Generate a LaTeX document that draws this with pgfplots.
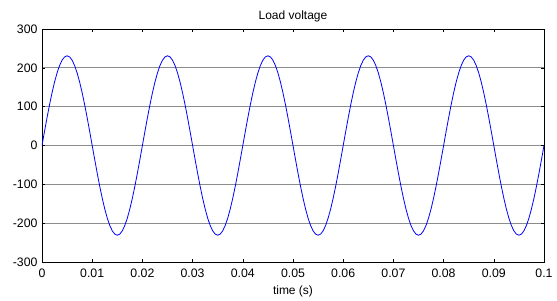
\documentclass[border=0pt]{standalone}
\usepackage{fontspec}
\setmainfont{Liberation Sans}
\usepackage{pgfplots}
\usepackage{pgfplotstable}
\pgfplotsset{compat=1.18}
\pgfplotstableread{
t v
0 0
0.0005 36.14
0.001 71.38
0.0015 104.87
0.002 135.78
0.0025 163.34
0.003 186.88
0.0035 205.82
0.004 219.69
0.0045 228.16
0.005 231
0.0055 228.16
0.006 219.69
0.0065 205.82
0.007 186.88
0.0075 163.34
0.008 135.78
0.0085 104.87
0.009 71.38
0.0095 36.14
0.01 0
0.0105 -36.14
0.011 -71.38
0.0115 -104.87
0.012 -135.78
0.0125 -163.34
0.013 -186.88
0.0135 -205.82
0.014 -219.69
0.0145 -228.16
0.015 -231
0.0155 -228.16
0.016 -219.69
0.0165 -205.82
0.017 -186.88
0.0175 -163.34
0.018 -135.78
0.0185 -104.87
0.019 -71.38
0.0195 -36.14
0.02 0
0.0205 36.14
0.021 71.38
0.0215 104.87
0.022 135.78
0.0225 163.34
0.023 186.88
0.0235 205.82
0.024 219.69
0.0245 228.16
0.025 231
0.0255 228.16
0.026 219.69
0.0265 205.82
0.027 186.88
0.0275 163.34
0.028 135.78
0.0285 104.87
0.029 71.38
0.0295 36.14
0.03 0
0.0305 -36.14
0.031 -71.38
0.0315 -104.87
0.032 -135.78
0.0325 -163.34
0.033 -186.88
0.0335 -205.82
0.034 -219.69
0.0345 -228.16
0.035 -231
0.0355 -228.16
0.036 -219.69
0.0365 -205.82
0.037 -186.88
0.0375 -163.34
0.038 -135.78
0.0385 -104.87
0.039 -71.38
0.0395 -36.14
0.04 0
0.0405 36.14
0.041 71.38
0.0415 104.87
0.042 135.78
0.0425 163.34
0.043 186.88
0.0435 205.82
0.044 219.69
0.0445 228.16
0.045 231
0.0455 228.16
0.046 219.69
0.0465 205.82
0.047 186.88
0.0475 163.34
0.048 135.78
0.0485 104.87
0.049 71.38
0.0495 36.14
0.05 0
0.0505 -36.14
0.051 -71.38
0.0515 -104.87
0.052 -135.78
0.0525 -163.34
0.053 -186.88
0.0535 -205.82
0.054 -219.69
0.0545 -228.16
0.055 -231
0.0555 -228.16
0.056 -219.69
0.0565 -205.82
0.057 -186.88
0.0575 -163.34
0.058 -135.78
0.0585 -104.87
0.059 -71.38
0.0595 -36.14
0.06 0
0.0605 36.14
0.061 71.38
0.0615 104.87
0.062 135.78
0.0625 163.34
0.063 186.88
0.0635 205.82
0.064 219.69
0.0645 228.16
0.065 231
0.0655 228.16
0.066 219.69
0.0665 205.82
0.067 186.88
0.0675 163.34
0.068 135.78
0.0685 104.87
0.069 71.38
0.0695 36.14
0.07 0
0.0705 -36.14
0.071 -71.38
0.0715 -104.87
0.072 -135.78
0.0725 -163.34
0.073 -186.88
0.0735 -205.82
0.074 -219.69
0.0745 -228.16
0.075 -231
0.0755 -228.16
0.076 -219.69
0.0765 -205.82
0.077 -186.88
0.0775 -163.34
0.078 -135.78
0.0785 -104.87
0.079 -71.38
0.0795 -36.14
0.08 0
0.0805 36.14
0.081 71.38
0.0815 104.87
0.082 135.78
0.0825 163.34
0.083 186.88
0.0835 205.82
0.084 219.69
0.0845 228.16
0.085 231
0.0855 228.16
0.086 219.69
0.0865 205.82
0.087 186.88
0.0875 163.34
0.088 135.78
0.0885 104.87
0.089 71.38
0.0895 36.14
0.09 0
0.0905 -36.14
0.091 -71.38
0.0915 -104.87
0.092 -135.78
0.0925 -163.34
0.093 -186.88
0.0935 -205.82
0.094 -219.69
0.0945 -228.16
0.095 -231
0.0955 -228.16
0.096 -219.69
0.0965 -205.82
0.097 -186.88
0.0975 -163.34
0.098 -135.78
0.0985 -104.87
0.099 -71.38
0.0995 -36.14
0.1 0
}\loadv
\begin{document}
\begin{tikzpicture}
\useasboundingbox (-42pt,-38pt) rectangle (515pt,262pt);
\begin{axis}[
  at={(0pt,0pt)}, anchor=south west,
  scale only axis,
  width=502pt, height=233pt,
  xmin=0, xmax=0.1, ymin=-300, ymax=300,
  xtick={0,0.01,0.02,0.03,0.04,0.05,0.06,0.07,0.08,0.09,0.1},
  xticklabels={0,0.01,0.02,0.03,0.04,0.05,0.06,0.07,0.08,0.09,0.1},
  ytick={-300,-200,-100,0,100,200,300},
  scaled x ticks=false,
  /pgf/number format/assume math mode=true,
  ticklabel style={font=\fontsize{12.3}{14}\selectfont},
  tick align=inside,
  major tick length=3pt,
  tick style={black, line width=0.6pt},
  axis line style={black, line width=0.8pt},
  ymajorgrids,
  grid style={gray!90, line width=0.7pt},
  title={Load voltage},
  title style={font=\fontsize{12}{14}\selectfont, at={(axis description cs:0.5,1)}, anchor=base, yshift=4pt},
  xlabel={time (s)},
  xlabel style={font=\fontsize{12}{14}\selectfont, at={(axis description cs:0.5,0)}, anchor=base, yshift=-32pt},
  xticklabel style={yshift=-3pt},
  yticklabel style={xshift=-1pt},
]
\addplot[blue, line width=0.8pt] table[x=t, y=v] {\loadv};
\end{axis}
\end{tikzpicture}
\end{document}
